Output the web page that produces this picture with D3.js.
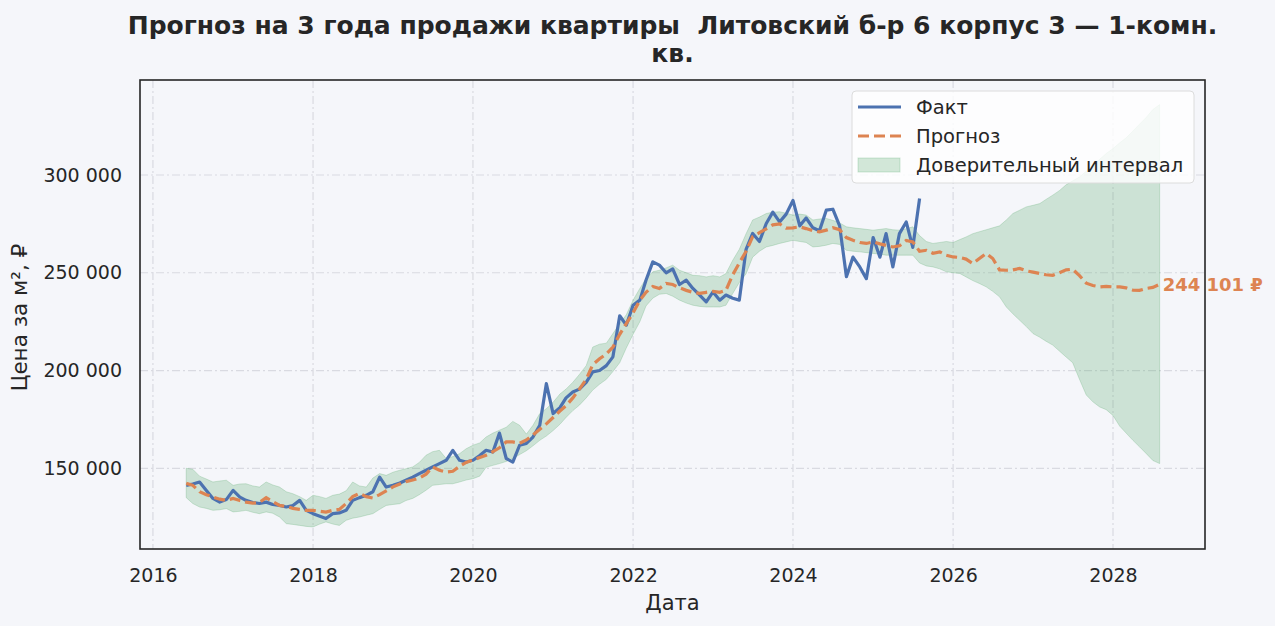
<!DOCTYPE html>
<html>
<head>
<meta charset="utf-8">
<script src="https://cdn.jsdelivr.net/npm/d3@7"></script>
<style>
  body { margin: 0; background: #f5f6fa; }
  text { font-family: "DejaVu Sans", sans-serif; fill: #262626; }
</style>
</head>
<body>
<div id="chart"></div>
<script>
const width = 1275;
const height = 626;
const margin = {top: 80, right: 70, bottom: 77, left: 140};

// monthly points, first one = June 2016
const startMonth = new Date(2016, 5, 1);

const factValues = [
  141300,142000,143000,138700,134600,132700,134000,138700,135300,133600,
  132500,132000,132700,131500,131000,130200,131000,133600,128500,126800,
  125500,124300,126800,127200,128500,133600,135000,136200,138000,145500,
  140400,141300,142500,143900,145500,147300,149000,150700,152400,154100,
  159200,154100,153200,154100,156500,159200,158300,168000,155000,153200,
  161800,162700,166000,172000,193300,178000,181000,186000,189000,190500,
  194000,199300,200000,202500,207000,228000,223200,233400,236000,246200,
  255600,253900,250000,252000,244000,246200,242000,238600,235100,240200,
  236000,238600,237000,236000,262000,270100,266000,275200,281000,276000,
  280000,287000,274000,278000,273000,271500,282000,282500,274000,248000,
  258000,253000,247000,268000,258000,270000,253000,270000,276000,263000,
  288000
];

const forecastValues = [
  142300,141300,138000,136500,135300,134200,133600,134600,133500,132700,
  132200,132500,135000,133000,131000,130500,129500,129000,128500,128500,
  128000,127600,128500,129000,132000,135500,137200,135500,134800,136500,
  138500,140500,142000,143200,144000,145000,147000,150700,149000,148100,
  148500,151000,153000,154300,155500,156700,158500,160500,163500,163500,
  162800,164500,167000,170000,172700,176000,179300,182000,186000,190500,
  195500,203000,206000,208500,212000,218500,224000,229500,236000,240000,
  243000,242000,244500,244000,242300,241000,240000,239500,240000,240500,
  240000,241000,249000,255000,261000,268500,270500,272500,274500,275000,
  272800,273000,273500,272600,271500,270900,271800,273000,272000,268000,
  266600,265500,265000,265800,264800,264000,263200,263800,266500,265800,
  261000,261500,260000,260700,259000,258100,257800,257000,254700,257300,
  259900,257300,251500,251300,251500,252200,251000,250300,249600,249000,
  248700,250000,251500,251800,248500,244700,243500,242800,243000,242800,
  242800,242300,241100,241000,242000,242500,244101
];

const ciUpper = [
  150000,149500,146000,144500,143000,143500,143900,141300,142000,142100,
  141000,140400,143000,141500,140400,138000,137000,135500,133600,136200,
  135500,134600,136200,136800,138500,143000,141000,140400,145000,147300,
  146400,148000,149000,149800,150700,153000,156700,158500,159200,155000,
  156000,157500,160000,161800,163000,166000,168000,169500,171000,174000,
  172000,167500,172000,178000,180500,183800,188000,190500,194000,198000,
  202500,212000,213500,214000,218900,224000,228500,236000,242000,247000,
  250500,251300,252500,253900,251300,250000,248700,248500,247900,248500,
  247900,249600,256400,262000,270000,277000,278500,280300,281000,281200,
  280500,279500,280000,279500,277000,277500,277800,276800,275500,273500,
  273000,272600,272200,271800,272200,272600,272000,271800,272500,273500,
  269000,266000,265000,265500,266000,265500,267000,268300,270000,271000,
  272000,273000,274000,277000,280300,282000,283700,284500,285400,287500,
  289700,292000,295000,297000,299000,302000,305000,308000,311000,313500,
  316500,319000,322500,326000,329500,333500,336000
];

const ciLower = [
  135000,132000,130200,129500,128500,128800,129400,127700,128000,128500,
  127500,126800,127700,127000,125100,121700,121300,120800,120300,120000,
  121500,122600,121500,120800,123400,124500,125100,126000,126800,129000,
  131000,131500,131900,133500,134600,136500,138800,141300,141700,142100,
  142100,143000,144000,144700,146000,150500,151500,152400,153500,155000,
  157000,159000,161500,164300,166500,169300,172500,176000,179500,182300,
  186000,190000,193000,195500,199500,204000,211500,218500,225000,233000,
  237000,239000,239400,238000,236000,234500,233400,232800,232500,232500,
  232500,233400,239400,245000,249500,258000,261000,263200,264000,265000,
  265800,266600,266000,265500,263200,263500,264100,265000,264500,261500,
  261000,260700,260300,259900,259500,259000,259000,259000,259000,259000,
  255000,253500,253000,252000,250500,250000,249600,247900,246000,244500,
  242800,240500,237700,232500,229000,225700,222500,218900,217000,215000,
  213000,210000,206900,204000,195500,187500,184000,181400,180000,177000,
  171500,168000,164300,161000,157500,154000,152400
];

const yTicks = [150000, 200000, 250000, 300000];
const titleLines = ["Прогноз на 3 года продажи квартиры  Литовский б-р 6 корпус 3 — 1-комн.", "кв."];
const legendLabels = ["Факт", "Прогноз", "Доверительный интервал"];

const colors = {fact: "#4c72b0", forecast: "#dd8452", band: "#55a868", grid: "#d9dae1"};

const fact = factValues.map((v, i) => ({date: d3.timeMonth.offset(startMonth, i), value: v}));
const forecast = forecastValues.map((v, i) => ({
  date: d3.timeMonth.offset(startMonth, i), value: v, lo: ciLower[i], hi: ciUpper[i]
}));

const svg = d3.select('#chart')
  .append('svg')
  .attr('width', width)
  .attr('height', height)
  .style('background', '#f5f6fa');

const x = d3.scaleTime()
  .domain([new Date(2015, 10, 3), new Date(2029, 1, 24)])
  .range([margin.left, width - margin.right]);

const y = d3.scaleLinear()
  .domain([108730, 348590])
  .range([height - margin.bottom, margin.top]);

const fmt = v => d3.format(",")(v).replace(/,/g, " ");

// grid
const grid = svg.append('g');
grid.selectAll('line.gx')
  .data(x.ticks(d3.timeYear.every(2)))
  .enter().append('line')
  .attr('x1', d => x(d)).attr('x2', d => x(d))
  .attr('y1', margin.top).attr('y2', height - margin.bottom);
grid.selectAll('line.gy')
  .data(yTicks)
  .enter().append('line')
  .attr('x1', margin.left).attr('x2', width - margin.right)
  .attr('y1', d => y(d)).attr('y2', d => y(d));
grid.selectAll('line')
  .attr('stroke', colors.grid)
  .attr('stroke-width', 1.2)
  .attr('stroke-dasharray', '8,3,2,3');

const plot = svg.append('g');

plot.append('path')
  .datum(forecast)
  .attr('d', d3.area().x(d => x(d.date)).y0(d => y(d.lo)).y1(d => y(d.hi)))
  .attr('fill', colors.band)
  .attr('fill-opacity', 0.25)
  .attr('stroke', colors.band)
  .attr('stroke-opacity', 0.25);

plot.append('path')
  .datum(fact)
  .attr('d', d3.line().x(d => x(d.date)).y(d => y(d.value)))
  .attr('fill', 'none')
  .attr('stroke', colors.fact)
  .attr('stroke-width', 3.2)
  .attr('stroke-linejoin', 'round');

plot.append('path')
  .datum(forecast)
  .attr('d', d3.line().x(d => x(d.date)).y(d => y(d.value)))
  .attr('fill', 'none')
  .attr('stroke', colors.forecast)
  .attr('stroke-width', 3.2)
  .attr('stroke-dasharray', '11,5');

// end label
const last = forecast[forecast.length - 1];
svg.append('text')
  .attr('x', x(last.date) + 3)
  .attr('y', y(last.value))
  .attr('dy', '0.35em')
  .style('font-size', '18px')
  .style('font-weight', 'bold')
  .style('fill', colors.forecast)
  .text(fmt(last.value) + ' ₽');

// frame
svg.append('rect')
  .attr('x', margin.left).attr('y', margin.top)
  .attr('width', width - margin.left - margin.right)
  .attr('height', height - margin.top - margin.bottom)
  .attr('fill', 'none')
  .attr('stroke', '#262626')
  .attr('stroke-width', 1.6);

// axes
const xAxis = svg.append('g')
  .attr('transform', `translate(0,${height - margin.bottom})`)
  .call(d3.axisBottom(x).ticks(d3.timeYear.every(2)).tickFormat(d3.timeFormat('%Y')).tickSize(0).tickPadding(20));
const yAxis = svg.append('g')
  .attr('transform', `translate(${margin.left},0)`)
  .call(d3.axisLeft(y).tickValues(yTicks).tickFormat(fmt).tickSize(0).tickPadding(18));
[xAxis, yAxis].forEach(a => {
  a.select('.domain').remove();
  a.selectAll('text').style('font-size', '19px').style('font-family', '"DejaVu Sans", sans-serif').attr('fill', '#262626');
});

svg.append('text')
  .attr('x', (margin.left + width - margin.right) / 2)
  .attr('y', 610)
  .attr('text-anchor', 'middle')
  .style('font-size', '21px')
  .text('Дата');

svg.append('text')
  .attr('transform', `translate(27,${(margin.top + height - margin.bottom) / 2 + 3}) rotate(-90)`)
  .attr('text-anchor', 'middle')
  .style('font-size', '21.5px')
  .text('Цена за м², ₽');

// title
svg.selectAll('text.title')
  .data(titleLines)
  .enter().append('text')
  .attr('class', 'title')
  .attr('x', (margin.left + width - margin.right) / 2)
  .attr('y', (d, i) => 34 + i * 28)
  .attr('text-anchor', 'middle')
  .style('font-size', '25px')
  .style('font-weight', 'bold')
  .style('white-space', 'pre')
  .text(d => d);

// legend
const legend = svg.append('g').attr('transform', 'translate(852,91)');
legend.append('rect')
  .attr('width', 342).attr('height', 92)
  .attr('rx', 4)
  .attr('fill', '#ffffff').attr('fill-opacity', 0.8)
  .attr('stroke', '#dcdcdc');
const items = legend.selectAll('g.item')
  .data(legendLabels)
  .enter().append('g')
  .attr('transform', (d, i) => `translate(0,${16 + i * 29})`);
items.filter((d, i) => i === 0).append('line')
  .attr('x1', 6).attr('x2', 49).attr('stroke', colors.fact).attr('stroke-width', 3.2);
items.filter((d, i) => i === 1).append('line')
  .attr('x1', 6).attr('x2', 49).attr('stroke', colors.forecast).attr('stroke-width', 3.2)
  .attr('stroke-dasharray', '11,5');
items.filter((d, i) => i === 2).append('rect')
  .attr('x', 6).attr('y', -7).attr('width', 42).attr('height', 14)
  .attr('fill', colors.band).attr('fill-opacity', 0.25)
  .attr('stroke', colors.band).attr('stroke-opacity', 0.25);
items.append('text')
  .attr('x', 64)
  .attr('dy', '0.35em')
  .style('font-size', '19.5px')
  .text(d => d);
</script>
</body>
</html>
